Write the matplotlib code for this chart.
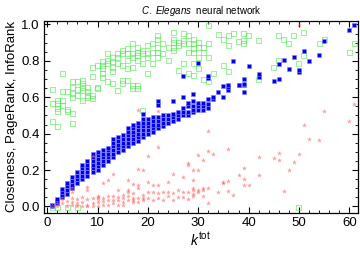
import matplotlib
matplotlib.use("Agg")
import matplotlib.pyplot as plt
import matplotlib.ticker as tick

# readings per in+out degree k
closeness = {
    1: [-0.005, 0.465, 0.565, 0.642],
    2: [-0.005, 0.437, 0.52, 0.54, 0.565, 0.58],
    3: [0.556, 0.584, 0.63, 0.733],
    4: [-0.005, 0.52, 0.53, 0.63],
    5: [0.456, 0.51, 0.6, 0.62, 0.653, 0.684],
    6: [-0.005, 0.61, 0.64, 0.684],
    7: [0.584, 0.638, 0.656, 0.675, 0.693],
    8: [0.6, 0.61, 0.63, 0.656],
    9: [0.593, 0.61, 0.715, 0.766],
    10: [0.647, 0.656, 0.775],
    11: [0.711, 0.73, 0.757, 0.775, 0.794],
    12: [0.684, 0.785, 0.803, 0.843],
    13: [0.675, 0.739, 0.766, 0.794, 0.82],
    14: [0.638, 0.785, 0.82, 0.84],
    15: [0.675, 0.693, 0.775, 0.84, 0.858],
    16: [0.693, 0.757, 0.803, 0.84, 0.867],
    17: [0.648, 0.666, 0.766, 0.82, 0.84, 0.894],
    18: [0.648, 0.666, 0.803, 0.83, 0.848, 0.876],
    19: [0.529, 0.785, 0.84, 0.858],
    20: [0.73, 0.82, 0.84, 0.885],
    21: [0.785, 0.848, 0.894],
    22: [0.82, 0.848, 0.876, 0.92, 0.94],
    23: [0.84, 0.894],
    24: [0.803, 0.876],
    25: [0.858, 0.872, 0.9, 0.92, 0.958],
    26: [0.748, 0.885, 0.903],
    27: [0.785, 0.894, 0.912, 0.949],
    28: [0.73, 0.848, 0.894, 0.94],
    29: [0.72, 0.785, 0.848, 0.867, 0.894, 0.92],
    30: [0.757, 0.82, 0.876, 0.903],
    31: [0.7, 0.848, 0.876],
    32: [0.684, 0.817, 0.894, 0.995],
    33: [0.73],
    34: [0.945],
    35: [0.775, 0.916],
    36: [0.739, 0.885, 0.94],
    37: [0.952],
    38: [0.908],
    39: [0.894, 0.912, 0.949],
    40: [0.94],
    42: [0.7, 0.912],
    45: [0.766],
    46: [0.803, 0.94],
    47: [0.916],
    48: [0.894],
    49: [0.94],
    50: [-0.005, 0.785],
    51: [0.83, 0.958],
    54: [0.894],
    55: [0.92],
    60: [0.848],
    61: [0.894],
}

pagerank = {
    1: [0.0, 0.01],
    2: [0.02, 0.03, 0.04],
    3: [0.05, 0.065, 0.08, 0.095],
    4: [0.07, 0.09, 0.11, 0.13],
    5: [0.1, 0.12, 0.14, 0.16],
    6: [0.13, 0.15, 0.17, 0.19],
    7: [0.15, 0.17, 0.19, 0.21, 0.23],
    8: [0.17, 0.19, 0.21, 0.23, 0.25],
    9: [0.19, 0.21, 0.23, 0.25, 0.27, 0.29],
    10: [0.2, 0.22, 0.24, 0.26, 0.28, 0.3],
    11: [0.23, 0.25, 0.27, 0.29, 0.31],
    12: [0.25, 0.27, 0.29, 0.31, 0.32],
    13: [0.27, 0.29, 0.31, 0.33, 0.35, 0.37],
    14: [0.3, 0.32, 0.34, 0.36, 0.38],
    15: [0.31, 0.33, 0.35, 0.37, 0.39],
    16: [0.33, 0.35, 0.37, 0.39, 0.41, 0.43],
    17: [0.35, 0.37, 0.39, 0.41, 0.43, 0.45],
    18: [0.36, 0.38, 0.4, 0.42, 0.44, 0.46],
    19: [0.38, 0.4, 0.42, 0.44, 0.46, 0.48, 0.51],
    20: [0.4, 0.42, 0.44, 0.46, 0.48],
    21: [0.41, 0.43, 0.45, 0.47, 0.49],
    22: [0.43, 0.45, 0.47, 0.49, 0.56, 0.58],
    23: [0.44, 0.46, 0.48, 0.5],
    24: [0.46, 0.48, 0.5],
    25: [0.47, 0.49, 0.51, 0.58],
    26: [0.48, 0.5, 0.52],
    27: [0.5, 0.52, 0.54, 0.6, 0.715],
    28: [0.5, 0.52, 0.55, 0.57],
    29: [0.52, 0.53, 0.55, 0.58, 0.62],
    30: [0.53, 0.55, 0.57, 0.79],
    31: [0.53, 0.55, 0.57],
    32: [0.54, 0.565, 0.59, 0.705, 0.715],
    33: [0.59, 0.6],
    34: [0.63],
    35: [0.6, 0.66],
    36: [0.64, 0.655, 0.67],
    37: [0.8],
    38: [0.665, 0.67],
    39: [0.627, 0.665, 0.675, 0.7],
    40: [0.77],
    42: [0.71, 0.726],
    45: [0.69],
    46: [0.7, 0.78],
    47: [0.806],
    48: [0.757],
    49: [0.82],
    50: [0.737, 0.75],
    51: [0.852],
    52: [0.8],
    54: [0.834],
    55: [0.907],
    60: [0.967],
    61: [0.995],
}

inforank = {
    1: [0.01],
    2: [0.003, 0.02],
    3: [0.02, 0.04],
    4: [0.005, 0.03],
    5: [0.01, 0.026, 0.045, 0.08, 0.1],
    6: [0.0, 0.02, 0.04],
    7: [0.0, 0.027, 0.05],
    8: [0.0, 0.01, 0.04, 0.09, 0.108],
    9: [0.0, 0.02, 0.045, 0.277],
    10: [0.005, 0.025, 0.04, 0.05, 0.06],
    11: [0.01, 0.03, 0.045, 0.13],
    12: [0.01, 0.035, 0.06, 0.145],
    13: [0.02, 0.035, 0.055, 0.176],
    14: [0.01, 0.035, 0.05, 0.09],
    15: [0.01, 0.025, 0.045, 0.065],
    16: [0.035, 0.06, 0.08, 0.09, 0.147],
    17: [0.025, 0.035, 0.045, 0.075, 0.125],
    18: [0.025, 0.045, 0.1, 0.12, 0.204, 0.53],
    19: [0.035, 0.045, 0.065, 0.2],
    20: [0.045, 0.08, 0.135, 0.277],
    21: [0.035, 0.08, 0.12],
    22: [0.045, 0.075, 0.12, 0.325, 0.525],
    23: [0.035, 0.08],
    24: [0.055, 0.08, 0.134],
    25: [0.035, 0.075, 0.176],
    26: [0.05, 0.09],
    27: [0.05, 0.08, 0.16],
    28: [0.04, 0.08, 0.228, 0.24],
    29: [0.06, 0.07, 0.09, 0.1, 0.145, 0.2],
    30: [0.08, 0.09, 0.2, 0.28],
    31: [0.06, 0.09, 0.1, 0.255],
    32: [0.02, 0.1, 0.304, 0.415],
    33: [0.286],
    34: [0.078],
    35: [0.128, 0.135],
    36: [0.087, 0.14, 0.313],
    37: [0.063],
    38: [0.173],
    39: [0.116, 0.153, 0.209],
    40: [0.116],
    42: [0.173, 0.27],
    45: [0.268],
    46: [0.255, 0.295],
    47: [0.087],
    48: [0.2],
    49: [0.244],
    50: [0.286, 0.995],
    51: [0.445],
    52: [0.368],
    54: [0.364],
    55: [0.523],
    60: [0.468],
    61: [0.565],
}


def flatten(d):
    xs, ys = [], []
    for k, vals in d.items():
        for v in vals:
            xs.append(k)
            ys.append(v)
    return xs, ys


plt.rcParams['font.family'] = ['Liberation Sans', 'DejaVu Sans']
plt.rcParams['mathtext.fontset'] = 'custom'
plt.rcParams['mathtext.rm'] = 'Liberation Sans'
plt.rcParams['mathtext.it'] = 'Liberation Sans:italic'

fig = plt.figure(figsize=(3.6, 2.56), dpi=100)
ax = fig.add_axes([0.122, 0.168, 0.872, 0.75])

gx, gy = flatten(closeness)
bx, by = flatten(pagerank)
rx, ry = flatten(inforank)

ax.scatter(gx, gy, marker='s', facecolors='none', edgecolors=(0.3, 0.9, 0.3, 0.55),
           s=13, linewidths=0.8, zorder=2)
ax.scatter(bx, by, marker='s', color='#0000ee', edgecolors=(0.5, 0.5, 1.0, 0.7),
           s=9, linewidths=0.6, zorder=3)
ax.scatter(rx, ry, marker='*', color=(1.0, 0.3, 0.3, 0.55), s=14, linewidths=0, zorder=4)

ax.set_xlim(-0.65, 61.7)
ax.set_ylim(-0.036, 1.019)
ax.xaxis.set_major_locator(tick.MultipleLocator(10))
ax.xaxis.set_minor_locator(tick.MultipleLocator(2))
ax.yaxis.set_major_locator(tick.MultipleLocator(0.2))
ax.yaxis.set_minor_locator(tick.MultipleLocator(0.05))
ax.yaxis.set_major_formatter(tick.FormatStrFormatter('%.1f'))
ax.tick_params(which='both', direction='in', top=True, right=True, labelsize=9.5, pad=3)
ax.tick_params(which='major', length=4, width=0.8)
ax.tick_params(which='minor', length=2, width=0.6)
for s in ax.spines.values():
    s.set_linewidth(0.9)

ax.set_xlabel(r'$k^{\rm tot}$', fontsize=10, labelpad=1)
ax.set_ylabel('Closeness, PageRank, InfoRank', fontsize=9.5, labelpad=2)
ax.set_title(r'$\it{C.\ Elegans}$  neural network', fontsize=7, pad=5)

plt.savefig('out.png', dpi=100)
